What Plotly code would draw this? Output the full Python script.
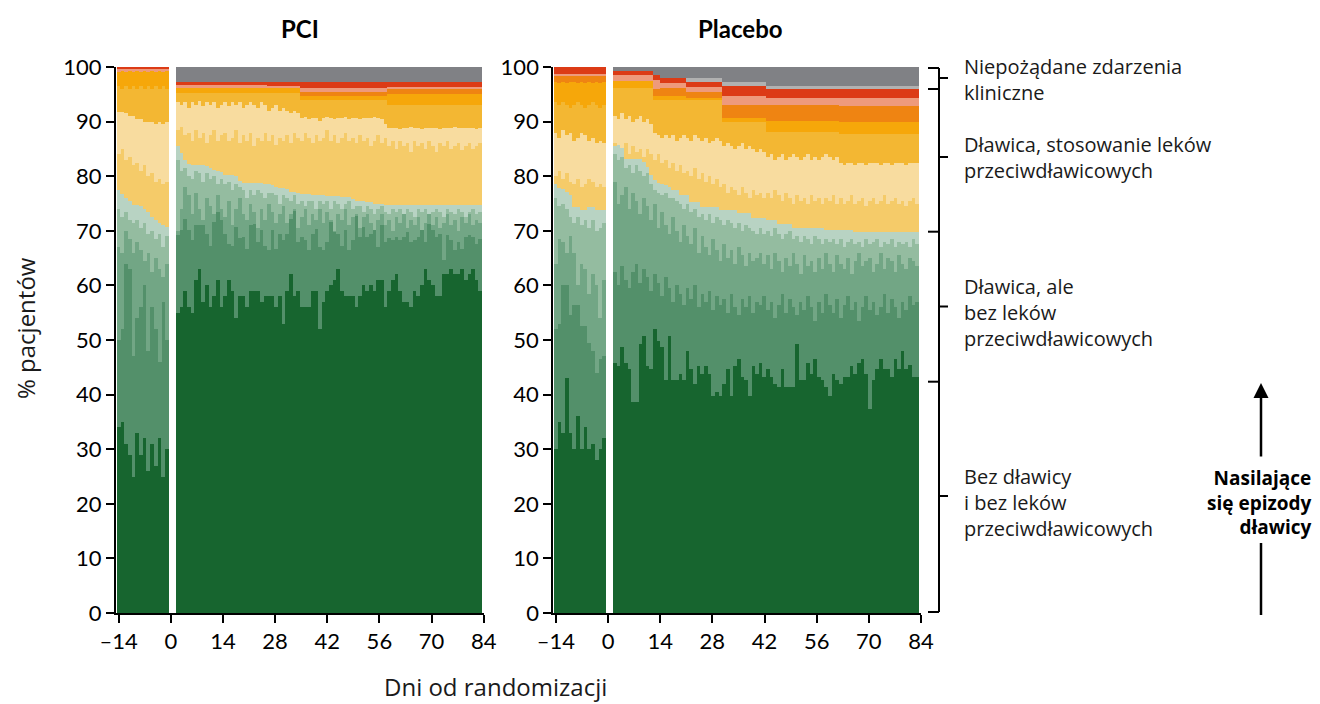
import plotly.graph_objects as go

# page body has an 8 px margin: figure is drawn at (8, 8)
OFF = 8
W, H = 1312, 696

# ---------------- categories / ticks / labels ----------------
days_pre = list(range(-14, 0))
days_post = list(range(1, 85))
x_tickvals = [-14, 0, 14, 28, 42, 56, 70, 84]
x_ticktext = ["\u201314", "0", "14", "28", "42", "56", "70", "84"]
y_tickvals = [0, 10, 20, 30, 40, 50, 60, 70, 80, 90, 100]
panel_titles = ["PCI", "Placebo"]
x_title = "Dni od randomizacji"
y_title = "% pacjentów"
bracket_labels = [
    "Niepożądane zdarzenia<br>kliniczne",
    "Dławica, stosowanie leków<br>przeciwdławicowych",
    "Dławica, ale<br>bez leków<br>przeciwdławicowych",
    "Bez dławicy<br>i bez leków<br>przeciwdławicowych",
]
side_label = "<b>Nasilające<br>się epizody<br>dławicy</b>"

layer_order = ["g0", "g1", "g2", "g3", "g4", "y0", "y1", "y2", "y3", "o", "s", "r", "lg", "gr"]
layer_colors = {
    "g0": "#17652f", "g1": "#53906a", "g2": "#72a685", "g3": "#94bca0", "g4": "#b8d3c3",
    "y0": "#f5cb69", "y1": "#f8dc9f", "y2": "#f3b733", "y3": "#f6a70a", "o": "#ef8412",
    "s": "#ee9a7c", "r": "#dc3b16", "lg": "#b1b1b1", "gr": "#808185",
}

# ---------------- PCI: cumulative tops (%), days -14..-1 ----------------
pci_pre_g0 = [34, 35, 31, 29, 25, 33, 29, 32, 26, 31, 27, 32, 25, 30]
pci_pre_g1 = [50, 52, 64, 63, 47, 54, 56, 60, 48, 56, 52, 46, 57, 50]
pci_pre_g2 = [67.0, 66.0, 70.0, 68.5, 66.0, 68.0, 66.5, 64.5, 66.0, 62.5, 65.0, 63.0, 61.5, 64.0]
pci_pre_g3 = [74.0, 72.5, 73.5, 72.0, 71.5, 72.0, 70.5, 71.5, 69.5, 70.0, 68.5, 69.5, 67.0, 69.0]
pci_pre_g4 = [77.4, 76.8, 76.0, 75.5, 74.7, 74.7, 74.5, 74.0, 73.5, 72.5, 72.0, 71.5, 71.0, 70.7]
pci_pre_y0 = [84.0, 85.0, 83.0, 83.5, 82.0, 82.5, 81.0, 82.0, 80.0, 80.5, 79.0, 79.5, 78.5, 79.0]
pci_pre_y1 = [91.8, 91.8, 91.5, 91.0, 91.0, 90.5, 90.5, 90.0, 90.0, 90.0, 89.5, 90.0, 89.5, 90.0]
pci_pre_y2 = [96.5, 96.0, 96.5, 96.0, 96.5, 96.0, 96.5, 96.0, 96.5, 96.0, 96.5, 96.0, 96.5, 96.0]
pci_pre_y3 = [99.0, 99.3, 99.0, 99.3, 99.0, 99.3, 99.0, 99.3, 99.0, 99.3, 99.0, 99.3, 99.0, 99.3]
pci_pre_s = [99.8, 99.8, 99.8, 99.8, 99.8, 99.8, 99.8, 99.8, 99.8, 99.8, 99.8, 99.8, 99.8, 99.8]
pci_pre_r = [100, 100, 100, 100, 100, 100, 100, 100, 100, 100, 100, 100, 100, 100]

# ---------------- PCI: cumulative tops (%), days 1..84 ----------------
pci_post_g0 = [
    55, 56, 59, 56, 55, 61, 63, 57, 60, 56,
    58, 61, 56, 58, 61, 59, 54, 58, 58, 56,
    59, 59, 59, 57, 58, 58, 58, 56, 58, 53,
    59, 62, 58, 59, 56, 56, 56, 59, 59, 52,
    57, 59, 60, 61, 63, 59, 58, 58, 58, 56,
    58, 60, 59, 60, 59, 61, 61, 56, 59, 61,
    62, 59, 57, 57, 56, 59, 58, 60, 63, 61,
    60, 58, 58, 62, 62, 63, 62, 62, 63, 61,
    62, 63, 61, 59]
pci_post_g1 = [
    69.2, 70.1, 72.1, 70.1, 68.3, 71.0, 71.0, 71.0, 69.5, 67.3,
    71.6, 73.4, 71.9, 69.5, 67.6, 67.3, 70.7, 68.6, 68.9, 66.7,
    71.0, 71.3, 68.0, 70.1, 67.3, 66.4, 70.1, 66.7, 69.5, 68.3,
    69.5, 72.2, 73.8, 68.0, 68.9, 68.3, 66.4, 69.5, 70.4, 67.0,
    66.4, 68.0, 71.6, 69.8, 69.5, 67.3, 70.1, 66.4, 68.3, 72.8,
    68.9, 70.7, 68.9, 69.5, 70.1, 67.0, 71.0, 68.0, 68.6, 68.3,
    68.9, 68.3, 68.9, 69.8, 68.0, 68.3, 68.9, 70.1, 68.0, 71.3,
    70.1, 68.9, 69.5, 64.6, 69.2, 68.3, 66.4, 68.0, 66.7, 68.9,
    69.2, 68.9, 67.5, 68.5]
pci_post_g2 = [
    70.0, 74.0, 78.0, 76.5, 73.0, 77.0, 74.0, 72.0, 76.0, 74.5,
    73.0, 76.5, 74.0, 72.5, 75.5, 71.0, 74.0, 76.0, 73.0, 72.0,
    75.0, 73.5, 70.5, 74.0, 72.0, 75.0, 73.5, 71.5, 73.0, 74.5,
    71.5, 73.0, 74.0, 70.5, 72.5, 74.0, 71.0, 73.0, 72.0, 74.0,
    71.5, 73.5, 72.0, 70.0, 73.0, 72.0, 74.0, 71.0, 72.5, 73.0,
    70.5, 72.5, 73.0, 71.5, 69.5, 72.0, 73.0, 71.0, 72.0, 70.0,
    72.5, 71.5, 73.0, 70.5, 72.0, 71.0, 72.5, 70.0, 71.5, 73.0,
    71.0, 72.5, 70.5, 71.5, 73.0, 71.0, 72.0, 70.0, 72.5, 71.5,
    73.0, 71.0, 72.0, 71.5]
pci_post_g3 = [
    83.0, 81.0, 81.5, 80.0, 79.5, 81.0, 80.5, 79.0, 80.5, 79.5,
    80.0, 78.5, 79.5, 78.5, 79.0, 77.5, 78.5, 78.0, 77.5, 76.0,
    77.5, 76.5, 77.5, 77.0, 76.0, 77.0, 77.0, 76.5, 75.0, 76.5,
    76.0, 75.5, 76.5, 75.0, 75.5, 74.5, 75.5, 75.5, 74.0, 75.5,
    75.0, 75.5, 74.0, 75.5, 75.0, 74.0, 75.0, 75.5, 74.0, 74.5,
    74.5, 73.5, 74.5, 74.0, 73.0, 74.0, 74.5, 73.5, 73.0, 74.0,
    73.5, 74.0, 73.0, 74.0, 73.5, 72.5, 74.0, 73.5, 74.0, 73.0,
    73.5, 74.0, 73.5, 72.5, 74.0, 73.5, 73.0, 74.0, 73.5, 72.5,
    73.5, 74.0, 73.0, 73.5]
pci_post_g4 = [
    85.5, 84.3, 83.0, 82.3, 82.0, 82.0, 82.0, 82.0, 81.8, 81.5,
    81.2, 81.0, 80.8, 80.3, 80.2, 80.2, 80.0, 79.2, 78.8, 78.7,
    78.7, 78.7, 78.7, 78.7, 78.5, 78.5, 78.3, 78.0, 77.9, 77.9,
    77.6, 77.1, 77.1, 76.9, 76.7, 76.7, 76.7, 76.5, 76.5, 76.5,
    76.5, 76.4, 76.4, 76.4, 76.3, 76.1, 76.1, 76.1, 75.9, 75.5,
    75.5, 75.5, 75.3, 75.3, 75.0, 75.0, 75.0, 74.8, 74.7, 74.7,
    74.7, 74.7, 74.7, 74.7, 74.7, 74.7, 74.7, 74.7, 74.7, 74.7,
    74.7, 74.7, 74.7, 74.7, 74.7, 74.7, 74.7, 74.7, 74.7, 74.7,
    74.7, 74.7, 74.7, 74.7]
pci_post_y0 = [
    88.5, 89.0, 87.5, 88.0, 86.5, 88.5, 87.0, 88.0, 86.0, 87.5,
    88.5, 86.5, 87.5, 88.0, 86.5, 87.0, 88.5, 86.0, 87.5, 86.5,
    88.0, 85.5, 87.0, 86.5, 88.0, 86.5, 87.5, 85.8, 87.0, 86.5,
    87.5, 86.0, 88.0, 87.0, 86.5, 88.0, 87.0, 86.0, 87.5, 86.5,
    87.0, 88.5, 86.5, 87.5, 86.0, 87.0, 88.0, 86.5, 87.0, 86.0,
    87.5, 86.5, 87.0, 85.5, 86.5, 87.5, 86.0, 87.0, 85.5, 86.5,
    85.0, 86.5, 85.5, 86.0, 84.5, 86.5, 85.5, 86.0, 85.0, 86.5,
    85.5, 84.5, 86.0, 85.5, 86.5, 85.0, 85.5, 86.0, 84.8, 85.5,
    86.0, 85.0, 85.5, 86.0]
pci_post_y1 = [
    93.5, 93.0, 93.5, 92.5, 93.5, 93.0, 93.8, 92.8, 93.5, 93.0,
    93.5, 92.5, 93.0, 93.5, 92.8, 93.5, 93.0, 93.5, 92.5, 93.0,
    93.5, 93.0, 92.5, 93.5, 93.0, 92.0, 92.5, 93.0, 92.0, 92.5,
    92.0, 91.5, 92.0, 91.5,
    90.6, 90.8, 90.4, 90.6, 90.6, 90.2,
    90.6, 90.8, 90.6, 90.4, 90.6, 90.6, 90.8, 90.5, 90.6, 90.6,
    90.4, 90.6, 90.6, 90.6, 90.8, 90.6, 90.4, 89.5,
    88.8, 88.8,
    88.8, 88.6, 88.8, 88.8, 89.0, 88.8, 88.8, 88.6, 88.8, 88.8,
    88.8, 88.8, 88.6, 88.8, 88.8, 88.8, 89.0, 88.8, 88.8, 88.8,
    88.8, 88.8, 88.6, 88.8]
pci_post_y2 = [
    95.3, 95.3, 95.3, 95.3, 95.3, 95.3, 95.3, 95.3, 95.3, 95.3,
    95.3, 95.3, 95.3, 95.3, 95.3, 95.3, 95.3, 95.3, 95.3, 95.3,
    95.3, 95.3, 95.3, 95.3, 95.3, 95.3, 95.3, 95.3, 95.3, 95.3,
    95.3, 95.3, 95.3, 95.3,
    94.0, 94.0, 94.0, 94.0, 94.0, 94.0, 94.0, 94.0, 94.0, 94.0, 94.0, 94.0,
    94.0, 94.0, 94.0, 94.0, 94.0, 94.0, 94.0, 94.0, 94.0, 94.0, 94.0, 94.0,
    93.0, 93.0, 93.0, 93.0, 93.0, 93.0, 93.0, 93.0, 93.0, 93.0, 93.0, 93.0, 93.0,
    93.0, 93.0, 93.0, 93.0, 93.0, 93.0, 93.0, 93.0, 93.0, 93.0, 93.0, 93.0, 93.0]
pci_post_y3 = [
    96.1, 96.1, 96.1, 96.1, 96.1, 96.1, 96.1, 96.1, 96.1, 96.1,
    96.1, 96.1, 96.1, 96.1, 96.1, 96.1, 96.1, 96.1, 96.1, 96.1,
    96.1, 96.1, 96.1, 96.1, 96.1, 96.1, 96.1, 96.1, 96.1, 96.1,
    96.1, 96.1, 96.1, 96.1,
    94.6, 94.6, 94.6, 94.6, 94.6, 94.6, 94.6, 94.6, 94.6, 94.6, 94.6, 94.6,
    94.6, 94.6, 94.6, 94.6, 94.6, 94.6, 94.6, 94.6, 94.6, 94.6, 94.6, 94.6,
    95.0, 95.0, 95.0, 95.0, 95.0, 95.0, 95.0, 95.0, 95.0, 95.0, 95.0, 95.0, 95.0,
    95.0, 95.0, 95.0, 95.0, 95.0, 95.0, 95.0, 95.0, 95.0, 95.0, 95.0, 95.0, 95.0]
pci_post_o = [
    96.1, 96.1, 96.1, 96.1, 96.1, 96.1, 96.1, 96.1, 96.1, 96.1,
    96.1, 96.1, 96.1, 96.1, 96.1, 96.1, 96.1, 96.1, 96.1, 96.1,
    96.1, 96.1, 96.1, 96.1, 96.1, 96.1, 96.1, 96.1, 96.1, 96.1,
    96.1, 96.1, 96.1, 96.1,
    95.5, 95.5, 95.5, 95.5, 95.5, 95.5, 95.5, 95.5, 95.5, 95.5, 95.5, 95.5,
    95.5, 95.5, 95.5, 95.5, 95.5, 95.5, 95.5, 95.5, 95.5, 95.5, 95.5, 95.5,
    95.9, 95.9, 95.9, 95.9, 95.9, 95.9, 95.9, 95.9, 95.9, 95.9, 95.9, 95.9, 95.9,
    95.9, 95.9, 95.9, 95.9, 95.9, 95.9, 95.9, 95.9, 95.9, 95.9, 95.9, 95.9, 95.9]
pci_post_s = [
    96.7, 96.7, 96.7, 96.7, 96.7, 96.7, 96.7, 96.7, 96.7, 96.7,
    96.7, 96.7, 96.7, 96.7, 96.7, 96.7, 96.7, 96.7, 96.7, 96.7,
    96.7, 96.7, 96.7, 96.7, 96.7,
    96.5, 96.5, 96.5, 96.5, 96.5, 96.5, 96.5, 96.5, 96.5,
    96.1, 96.1, 96.1, 96.1, 96.1, 96.1, 96.1, 96.1, 96.1, 96.1, 96.1, 96.1,
    96.1, 96.1, 96.1, 96.1, 96.1, 96.1, 96.1, 96.1, 96.1, 96.1, 96.1, 96.1,
    96.3, 96.3, 96.3, 96.3, 96.3, 96.3, 96.3, 96.3, 96.3, 96.3, 96.3, 96.3, 96.3,
    96.3, 96.3, 96.3, 96.3, 96.3, 96.3, 96.3, 96.3, 96.3, 96.3, 96.3, 96.3, 96.3]
pci_post_r = [
    97.3, 97.3, 97.3, 97.3, 97.3, 97.3, 97.3, 97.3, 97.3, 97.3,
    97.3, 97.3, 97.3, 97.3, 97.3, 97.3, 97.3, 97.3, 97.3, 97.3,
    97.3, 97.3, 97.3, 97.3, 97.3, 97.3, 97.3, 97.3, 97.3, 97.3,
    97.3, 97.3, 97.3, 97.3, 97.3, 97.3, 97.3, 97.3, 97.3, 97.3,
    97.3, 97.3, 97.3, 97.3, 97.3, 97.3, 97.3, 97.3, 97.3, 97.3,
    97.3, 97.3, 97.3, 97.3, 97.3, 97.3, 97.3, 97.3, 97.3, 97.3,
    97.3, 97.3, 97.3, 97.3, 97.3, 97.3, 97.3, 97.3, 97.3, 97.3,
    97.3, 97.3, 97.3, 97.3, 97.3, 97.3, 97.3, 97.3, 97.3, 97.3,
    97.3, 97.3, 97.3, 97.3]

# ---------------- Placebo: cumulative tops (%), days -14..-1 ----------------
pl_pre_g0 = [30, 35, 33, 43, 33, 30, 36, 30, 34, 30, 31, 28, 30, 32]
pl_pre_g1 = [52, 53, 60, 60, 54.5, 56.5, 56.5, 52.5, 52.5, 49.5, 48, 44, 46.5, 47]
pl_pre_g2 = [64, 68.5, 68, 66, 69, 66, 60, 64, 63, 58.5, 62, 60, 54, 61]
pl_pre_g3 = [76.0, 74.5, 75.0, 74.0, 72.5, 71.5, 72.5, 71.0, 72.0, 70.5, 72.0, 70.0, 70.5, 71.5]
pl_pre_g4 = [78.5, 77.8, 77.7, 77.1, 76.5, 74.4, 74.4, 73.8, 73.8, 74.4, 74.4, 73.8, 73.8, 73.8]
pl_pre_y0 = [80.0, 81.0, 79.5, 80.5, 79.0, 78.5, 79.5, 78.0, 78.5, 79.5, 79.0, 78.0, 78.5, 78.0]
pl_pre_y1 = [88.0, 87.0, 88.5, 87.5, 88.0, 86.5, 87.0, 88.0, 87.5, 86.5, 87.0, 86.0, 86.5, 86.0]
pl_pre_y2 = [93.5, 93.0, 93.5, 93.0, 92.5, 93.0, 93.5, 93.0, 92.5, 93.0, 93.5, 93.0, 92.5, 93.0]
pl_pre_y3 = [97.3, 97.0, 97.3, 97.0, 97.3, 97.3, 97.0, 97.3, 97.0, 97.3, 97.0, 97.3, 97.0, 97.3]
pl_pre_o = [98.5, 98.5, 98.5, 98.5, 98.5, 98.5, 98.5, 98.5, 98.5, 98.5, 98.5, 98.5, 98.5, 98.5]
pl_pre_s = [98.7, 98.7, 98.7, 98.7, 98.7, 98.7, 98.7, 98.7, 98.7, 98.7, 98.7, 98.7, 98.7, 98.7]
pl_pre_r = [100, 100, 100, 100, 100, 100, 100, 100, 100, 100, 100, 100, 100, 100]

# ---------------- Placebo: cumulative tops (%), days 1..84 ----------------
pl_post_g0 = [
    45.8, 45.2, 48.7, 45.8, 44.6, 38.6, 38.6, 49.2, 50.7, 45.2,
    44.6, 52.0, 49.9, 48.7, 42.6, 50.7, 42.6, 42.6, 43.8, 42.6,
    47.9, 44.6, 42.0, 45.2, 43.8, 45.2, 43.8, 39.8, 40.4, 39.8,
    42.0, 44.6, 39.8, 45.2, 46.5, 43.2, 42.6, 39.8, 45.2, 43.8,
    45.8, 43.2, 44.6, 43.2, 42.0, 41.4, 44.6, 41.4, 41.4, 41.4,
    49.2, 42.6, 42.6, 45.8, 43.8, 46.5, 43.2, 42.6, 41.4, 39.8,
    43.8, 42.6, 42.0, 43.2, 43.2, 45.2, 43.8, 45.8, 46.5, 43.8,
    37.4, 42.6, 44.6, 46.5, 44.6, 44.6, 43.3, 46.5, 44.6, 47.9,
    44.6, 45.5, 43.2, 43.2]
pl_post_g1 = [
    62.5, 60.0, 63.5, 61.0, 59.5, 62.5, 64.0, 60.5, 63.0, 61.5,
    59.0, 62.0, 60.5, 58.0, 61.5, 59.5, 57.0, 60.0, 58.5, 56.5,
    59.5, 57.5, 60.0, 56.0, 58.5, 57.0, 59.0, 55.5, 58.0, 56.5,
    57.5, 55.0, 58.5, 56.0, 54.5, 57.5, 56.0, 58.0, 55.0, 57.0,
    56.5, 58.0, 55.5, 57.0, 54.0, 56.5, 58.5, 55.0, 57.5, 56.0,
    54.5, 57.0, 55.5, 58.0, 56.0, 53.5, 57.0, 55.0, 58.5, 56.5,
    55.0, 57.5, 54.0, 56.5, 58.0, 55.5, 57.0, 53.5, 56.0, 58.0,
    55.5, 57.0, 54.5, 56.0, 58.5, 55.0, 57.5, 56.0, 54.0, 57.0,
    55.5, 58.0, 56.5, 57.0]
pl_post_g2 = [
    79.0, 75.0, 76.5, 78.0, 74.0, 77.0, 75.5, 73.0, 76.0, 74.5,
    72.0, 75.0, 70.5, 73.5, 71.0, 69.5, 72.5, 70.0, 68.0, 71.0,
    69.0, 67.5, 70.5, 66.0, 69.0, 67.0, 65.5, 68.5, 66.5, 64.5,
    67.5, 65.0, 66.5, 64.0, 67.0, 65.5, 63.5, 66.0, 64.5, 65.0,
    66.0, 64.0, 65.5, 63.0, 66.0, 64.5, 62.5, 65.0, 63.5, 66.0,
    64.0, 62.0, 65.5, 63.5, 64.5, 62.5, 65.0, 63.0, 66.0, 64.0,
    62.5, 65.5, 64.0, 63.0, 65.0, 62.0, 64.5, 66.0, 63.5, 64.5,
    65.0, 62.5, 64.0, 66.0, 63.0, 65.0, 64.5, 62.5, 65.5, 64.0,
    63.0, 65.0, 64.5, 63.5]
pl_post_g3 = [
    84.0, 83.0, 83.5, 81.5, 82.0, 80.5, 82.0, 81.0, 80.0, 80.5,
    78.5, 77.5, 77.0, 76.5, 77.0, 76.0, 76.0, 75.5, 75.0, 74.0,
    75.0, 73.5, 74.0, 72.5, 73.0, 72.0, 73.0, 71.5, 72.5, 72.0,
    71.0, 72.0, 71.5, 70.5, 71.5, 70.0, 71.0, 70.5, 70.0, 69.5,
    70.5, 69.5, 70.0, 69.0, 70.5, 69.5, 68.5, 69.5, 70.0, 68.5,
    69.0, 68.0, 69.0, 68.5, 67.5, 69.0, 68.5, 67.5, 68.5, 68.0,
    68.5, 67.5, 68.5, 67.0, 68.0, 68.5, 67.5, 68.0, 67.0, 68.5,
    67.5, 68.0, 68.5, 67.0, 68.0, 67.5, 68.5, 67.0, 68.0, 67.5,
    68.0, 67.0, 68.5, 67.5]
pl_post_g4 = [
    85.7, 85.7, 85.1, 83.2, 83.2, 83.2, 83.2, 83.2, 82.6, 81.7,
    80.2, 79.3, 78.7, 78.5, 78.3, 78.1, 77.4, 77.4, 76.5, 76.5,
    76.5, 75.3, 75.3, 75.3, 74.4, 74.4, 74.4, 74.4, 74.4, 73.8,
    73.8, 73.8, 73.8, 73.8, 73.2, 73.2, 73.2, 73.2, 72.3, 72.3,
    72.3, 72.3, 72.0, 72.0, 72.0, 71.3, 71.3, 71.3, 71.3, 70.6,
    70.6, 70.6, 70.6, 70.6, 70.6, 70.6, 70.6, 70.6, 70.1, 70.1,
    70.1, 70.1, 70.1, 70.1, 70.1, 70.1, 69.8, 69.8, 69.8, 69.8,
    69.8, 69.8, 69.8, 69.8, 69.8, 69.8, 69.8, 69.8, 69.8, 69.8,
    69.8, 69.8, 69.8, 69.8]
pl_post_y0 = [
    86.0, 85.5, 85.0, 86.0, 84.0, 85.5, 84.5, 85.0, 83.5, 85.0, 84.0,
    83.0, 84.0, 82.5, 83.0, 81.5, 82.5, 81.0, 82.0, 80.5,
    81.0, 80.0, 81.5, 79.5, 80.5, 79.0, 80.0, 78.5, 79.5, 78.0,
    78.5, 77.0, 78.0, 77.5, 76.5, 78.0, 77.0, 76.0, 77.5, 76.5, 77.0, 76.0,
    77.0, 76.0, 77.5, 76.5, 75.5, 77.0, 76.0, 75.0, 76.5, 75.5,
    76.0, 75.0, 76.5, 75.5, 76.0, 75.0, 76.0, 75.5, 76.5, 75.0,
    76.0, 75.0, 75.5, 76.5, 75.0, 75.5, 76.0, 74.5, 75.5, 76.0, 75.0,
    75.5, 76.5, 75.0, 75.5, 76.0, 75.0, 75.5, 74.5, 75.5, 76.0, 75.0]
pl_post_y1 = [
    91.0, 90.5, 91.5, 90.5, 91.0, 90.0, 90.5, 91.0, 90.0, 90.5, 89.5,
    88.0, 87.5, 87.0, 87.5, 87.0, 87.5, 86.5, 87.0, 87.5,
    87.0, 86.5, 87.5, 87.0, 86.5, 87.0, 86.0, 86.5, 87.0, 86.5,
    85.5, 86.0, 85.5, 85.0, 85.5, 86.0, 85.0, 85.5, 85.0, 84.5, 85.0, 84.5,
    83.5, 84.0, 83.0, 83.5, 84.0, 83.0, 83.5, 84.0, 83.5, 83.0,
    83.5, 84.0, 83.0, 83.5, 83.0, 83.5, 84.0, 83.5, 83.0, 83.5,
    82.5, 82.0, 82.5, 82.5, 82.0, 82.5, 82.5, 82.0, 82.5, 82.5, 82.5,
    82.0, 82.5, 82.5, 82.0, 82.5, 82.5, 82.5, 82.0, 82.5, 82.5, 82.5]
pl_post_y2 = [
    96.1, 96.1, 96.1, 96.1, 96.1, 96.1, 96.1, 96.1, 96.1, 96.1, 96.1,
    94.0, 94.0,
    94.0, 94.0, 94.0, 94.0, 94.0, 94.0, 94.0,
    94.0, 94.0, 94.0, 94.0, 94.0, 94.0, 94.0, 94.0, 94.0, 94.0,
    90.0, 90.0, 90.0, 90.0, 90.0, 90.0, 90.0, 90.0, 90.0, 90.0, 90.0, 90.0,
    88.1, 88.1, 88.1, 88.1, 88.1, 88.1, 88.1, 88.1, 88.1, 88.1,
    88.1, 88.1, 88.1, 88.1, 88.1, 88.1, 88.1, 88.1, 88.1, 88.1,
    87.8, 87.8, 87.8, 87.8, 87.8, 87.8, 87.8, 87.8, 87.8, 87.8, 87.8,
    87.8, 87.8, 87.8, 87.8, 87.8, 87.8, 87.8, 87.8, 87.8, 87.8, 87.8]
pl_post_y3 = [
    97.4, 97.4, 97.4, 97.4, 97.4, 97.4, 97.4, 97.4, 97.4, 97.4, 97.4,
    94.6, 94.6,
    94.6, 94.6, 94.6, 94.6, 94.6, 94.6, 94.6,
    94.3, 94.3, 94.3, 94.3, 94.3, 94.3, 94.3, 94.3, 94.3, 94.3,
    90.6, 90.6, 90.6, 90.6, 90.6, 90.6, 90.6, 90.6, 90.6, 90.6, 90.6, 90.6,
    90.2, 90.2, 90.2, 90.2, 90.2, 90.2, 90.2, 90.2, 90.2, 90.2,
    90.2, 90.2, 90.2, 90.2, 90.2, 90.2, 90.2, 90.2, 90.2, 90.2,
    89.9, 89.9, 89.9, 89.9, 89.9, 89.9, 89.9, 89.9, 89.9, 89.9, 89.9,
    89.9, 89.9, 89.9, 89.9, 89.9, 89.9, 89.9, 89.9, 89.9, 89.9, 89.9]
pl_post_o = [
    97.4, 97.4, 97.4, 97.4, 97.4, 97.4, 97.4, 97.4, 97.4, 97.4, 97.4,
    96.0, 96.0,
    96.1, 96.1, 96.1, 96.1, 96.1, 96.1, 96.1,
    95.5, 95.5, 95.5, 95.5, 95.5, 95.5, 95.5, 95.5, 95.5, 95.5,
    93.0, 93.0, 93.0, 93.0, 93.0, 93.0, 93.0, 93.0, 93.0, 93.0, 93.0, 93.0,
    93.0, 93.0, 93.0, 93.0, 93.0, 93.0, 93.0, 93.0, 93.0, 93.0,
    93.0, 93.0, 93.0, 93.0, 93.0, 93.0, 93.0, 93.0, 93.0, 93.0,
    92.8, 92.8, 92.8, 92.8, 92.8, 92.8, 92.8, 92.8, 92.8, 92.8, 92.8,
    92.8, 92.8, 92.8, 92.8, 92.8, 92.8, 92.8, 92.8, 92.8, 92.8, 92.8]
pl_post_s = [
    98.6, 98.6, 98.6, 98.6, 98.6, 98.6, 98.6, 98.6, 98.6, 98.6, 98.6,
    97.6, 97.6,
    97.1, 97.1, 97.1, 97.1, 97.1, 97.1, 97.1,
    96.4, 96.4, 96.4, 96.4, 96.4, 96.4, 96.4, 96.4, 96.4, 96.4,
    94.6, 94.6, 94.6, 94.6, 94.6, 94.6, 94.6, 94.6, 94.6, 94.6, 94.6, 94.6,
    94.4, 94.4, 94.4, 94.4, 94.4, 94.4, 94.4, 94.4, 94.4, 94.4,
    94.4, 94.4, 94.4, 94.4, 94.4, 94.4, 94.4, 94.4, 94.4, 94.4,
    94.3, 94.3, 94.3, 94.3, 94.3, 94.3, 94.3, 94.3, 94.3, 94.3, 94.3,
    94.3, 94.3, 94.3, 94.3, 94.3, 94.3, 94.3, 94.3, 94.3, 94.3, 94.3]
pl_post_r = [
    99.3, 99.3, 99.3, 99.3, 99.3, 99.3, 99.3, 99.3, 99.3, 99.3, 99.3,
    98.5, 98.5,
    98.0, 98.0, 98.0, 98.0, 98.0, 98.0, 98.0,
    97.3, 97.3, 97.3, 97.3, 97.3, 97.3, 97.3, 97.3, 97.3, 97.3,
    96.5, 96.5, 96.5, 96.5, 96.5, 96.5, 96.5, 96.5, 96.5, 96.5, 96.5, 96.5,
    95.9, 95.9, 95.9, 95.9, 95.9, 95.9, 95.9, 95.9, 95.9, 95.9,
    95.9, 95.9, 95.9, 95.9, 95.9, 95.9, 95.9, 95.9, 95.9, 95.9,
    95.9, 95.9, 95.9, 95.9, 95.9, 95.9, 95.9, 95.9, 95.9, 95.9, 95.9,
    95.9, 95.9, 95.9, 95.9, 95.9, 95.9, 95.9, 95.9, 95.9, 95.9, 95.9]
pl_post_lg = [
    99.3, 99.3, 99.3, 99.3, 99.3, 99.3, 99.3, 99.3, 99.3, 99.3, 99.3,
    98.5, 98.5,
    98.0, 98.0, 98.0, 98.0, 98.0, 98.0, 98.0,
    98.0, 98.0, 98.0, 98.0, 98.0, 98.0, 98.0, 98.0, 98.0, 98.0,
    97.2, 97.2, 97.2, 97.2, 97.2, 97.2, 97.2, 97.2, 97.2, 97.2, 97.2, 97.2,
    96.5, 96.5, 96.5, 96.5, 96.5, 96.5, 96.5, 96.5, 96.5, 96.5,
    96.5, 96.5, 96.5, 96.5, 96.5, 96.5, 96.5, 96.5, 96.5, 96.5,
    96.5, 96.5, 96.5, 96.5, 96.5, 96.5, 96.5, 96.5, 96.5, 96.5, 96.5,
    96.5, 96.5, 96.5, 96.5, 96.5, 96.5, 96.5, 96.5, 96.5, 96.5, 96.5]

# ---------------- assemble ----------------
pci_pre = {"g0": pci_pre_g0, "g1": pci_pre_g1, "g2": pci_pre_g2, "g3": pci_pre_g3, "g4": pci_pre_g4,
           "y0": pci_pre_y0, "y1": pci_pre_y1, "y2": pci_pre_y2, "y3": pci_pre_y3,
           "s": pci_pre_s, "r": pci_pre_r}
pci_post = {"g0": pci_post_g0, "g1": pci_post_g1, "g2": pci_post_g2, "g3": pci_post_g3, "g4": pci_post_g4,
            "y0": pci_post_y0, "y1": pci_post_y1, "y2": pci_post_y2, "y3": pci_post_y3,
            "o": pci_post_o, "s": pci_post_s, "r": pci_post_r}
pl_pre = {"g0": pl_pre_g0, "g1": pl_pre_g1, "g2": pl_pre_g2, "g3": pl_pre_g3, "g4": pl_pre_g4,
          "y0": pl_pre_y0, "y1": pl_pre_y1, "y2": pl_pre_y2, "y3": pl_pre_y3,
          "o": pl_pre_o, "s": pl_pre_s, "r": pl_pre_r}
pl_post = {"g0": pl_post_g0, "g1": pl_post_g1, "g2": pl_post_g2, "g3": pl_post_g3, "g4": pl_post_g4,
           "y0": pl_post_y0, "y1": pl_post_y1, "y2": pl_post_y2, "y3": pl_post_y3,
           "o": pl_post_o, "s": pl_post_s, "r": pl_post_r, "lg": pl_post_lg}

for dct, n in [(pci_pre, 14), (pci_post, 84), (pl_pre, 14), (pl_post, 84)]:
    for k, v in dct.items():
        assert len(v) == n, (k, len(v), n)

# bar positions on the day axis (gap after randomisation as in the original)
x_pre = [d for d in days_pre]
x_post = [1.41 + (d - 0.5) * 0.978 for d in days_post]
w_pre = [1.03] * len(days_pre)
w_post = [1.0] * len(days_post)


def heights(tops_pre, tops_post):
    out = {k: [] for k in layer_order}
    for part, n in [(tops_pre, len(days_pre)), (tops_post, len(days_post))]:
        for i in range(n):
            prev = 0.0
            for k in layer_order:
                if k == "gr":
                    top = 100.0
                elif k in part:
                    top = max(float(part[k][i]), prev)
                else:
                    top = prev
                out[k].append(max(0.0, top - prev))
                prev = top
    return out


fig = go.Figure()
for pi, (tp, tq) in enumerate([(pci_pre, pci_post), (pl_pre, pl_post)]):
    hs = heights(tp, tq)
    xa = "x" if pi == 0 else "x2"
    ya = "y" if pi == 0 else "y2"
    for k in layer_order:
        fig.add_trace(go.Bar(
            x=x_pre + x_post, y=hs[k], width=w_pre + w_post,
            marker=dict(color=layer_colors[k], line=dict(width=0)),
            xaxis=xa, yaxis=ya, showlegend=False, hoverinfo="skip",
        ))


def px(x):
    # screen pixel -> paper fraction
    return (x - OFF) / W


def py(y):
    return 1 - (y - OFF) / H


FONT = "Lato"
TXT = "Open Sans"
axis_common = dict(
    showline=True, linecolor="black", linewidth=2, mirror=False,
    ticks="outside", ticklen=8, tickwidth=2, tickcolor="black",
    showgrid=False, zeroline=False, automargin=False,
    tickfont=dict(family=FONT, size=22, color="black"),
)
ydom = [py(613), py(67)]
fig.update_layout(
    width=W, height=H, barmode="stack", bargap=0,
    margin=dict(l=0, r=0, t=0, b=0, autoexpand=False),
    plot_bgcolor="white", paper_bgcolor="white",
    hovermode=False,
    xaxis=dict(domain=[px(116), px(483.7)], range=[-14.7, 84], tickvals=x_tickvals,
               ticktext=x_ticktext, anchor="y", **axis_common),
    yaxis=dict(domain=ydom, range=[0, 100], tickvals=y_tickvals, anchor="x", **axis_common),
    xaxis2=dict(domain=[px(553.3), px(921)], range=[-14.7, 84], tickvals=x_tickvals,
                ticktext=x_ticktext, anchor="y2", **axis_common),
    yaxis2=dict(domain=ydom, range=[0, 100], tickvals=y_tickvals, anchor="x2", **axis_common),
)


def label(text, x, y, xanchor="center", yanchor="middle", **kw):
    return dict(text=text, x=px(x), y=py(y), xref="paper", yref="paper",
                xanchor=xanchor, yanchor=yanchor, showarrow=False, **kw)


ann = []
ann.append(label("<b>" + panel_titles[0] + "</b>", 300, 29,
                 font=dict(family=FONT, size=24, color="black")))
ann.append(label("<b>" + panel_titles[1] + "</b>", 740, 29,
                 font=dict(family=FONT, size=24, color="black")))
ann.append(label(x_title, 495, 686, font=dict(family=TXT, size=24, color="#1a1a1a")))
ann.append(label(y_title, 25, 328, textangle=-90, font=dict(family=TXT, size=24, color="#1a1a1a")))

label_y = [80, 158, 312, 502]
for txt, yy in zip(bracket_labels, label_y):
    ann.append(label(txt, 962, yy, xanchor="left", align="left",
                     font=dict(family=TXT, size=20, color="#1a1a1a")))
ann.append(label(side_label, 1314, 503, xanchor="right", align="right",
                 font=dict(family=TXT, size=19, color="black")))
ann.append(dict(text="", x=px(1261), y=py(383), xref="paper", yref="paper", ax=0, ay=75,
                showarrow=True, arrowhead=2, arrowsize=1.2, arrowwidth=2.5, arrowcolor="black"))
fig.update_layout(annotations=ann)

shapes = []
line = dict(color="black", width=2)
shapes.append(dict(type="line", xref="paper", yref="paper", x0=px(939), x1=px(939),
                   y0=py(68), y1=py(612), line=line))
for yy in [68, 89, 231.7, 381.7, 612]:
    shapes.append(dict(type="line", xref="paper", yref="paper", x0=px(928), x1=px(939),
                       y0=py(yy), y1=py(yy), line=line))
for yy in [78, 157, 306.5, 496]:
    shapes.append(dict(type="line", xref="paper", yref="paper", x0=px(939), x1=px(948),
                       y0=py(yy), y1=py(yy), line=line))
shapes.append(dict(type="line", xref="paper", yref="paper", x0=px(1261), x1=px(1261),
                   y0=py(543), y1=py(615), line=dict(color="black", width=2.5)))
fig.update_layout(shapes=shapes)

fig.write_html("out.html")
